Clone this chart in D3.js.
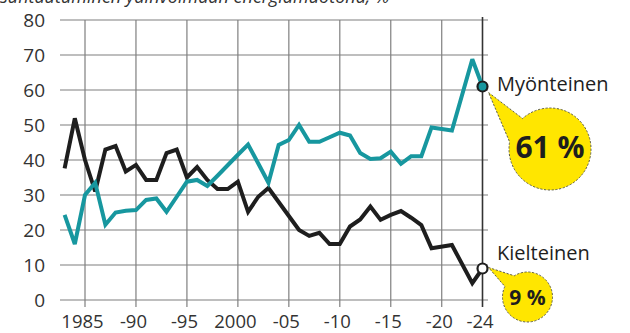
<!DOCTYPE html>
<html>
<head>
<meta charset="utf-8">
<script src="https://cdn.jsdelivr.net/npm/d3@7"></script>
<style>
  html, body { margin: 0; padding: 0; background: #fff; }
  svg { display: block; font-family: "Open Sans", "Noto Sans", sans-serif; }
</style>
</head>
<body>
<svg id="chart" width="630" height="333"></svg>
<script>
// Attitudes to nuclear power in Finland, share of respondents (%)
const positiveYears = [1983,1984,1985,1986,1987,1988,1989,1990,1991,1992,1993,1994,1995,1996,1997,1998,1999,2000,2001,2002,2003,2004,2005,2006,2007,2008,2009,2010,2011,2012,2013,2014,2015,2016,2017,2018,2019,2021,2023,2024];
const positiveValues = [24.3,16,30,33.5,21.5,25,25.5,25.7,28.6,29,25.2,29.5,33.8,34.3,32.6,35.5,38.5,41.5,44.4,39,33.5,44.3,45.7,50,45.2,45.2,46.5,47.8,47,42,40.3,40.5,42.4,38.9,41.1,41.1,49.3,48.4,68.8,61];

const negativeYears = [1983,1984,1985,1986,1987,1988,1989,1990,1991,1992,1993,1994,1995,1996,1997,1998,1999,2000,2001,2002,2003,2004,2005,2006,2007,2008,2009,2010,2011,2012,2013,2014,2015,2016,2017,2018,2019,2021,2023,2024];
const negativeValues = [37.6,51.9,40,31,43,44,36.7,38.6,34.3,34.3,42,43,35,38,34.3,31.7,31.7,33.8,25.2,29.5,32,28,24,20,18.3,19.2,16,16,21,23,26.7,22.9,24.3,25.4,23.5,21.4,14.8,15.7,4.8,9];

const yTicks = [0,10,20,30,40,50,60,70,80];
const xTicks = [1985,1990,1995,2000,2005,2010,2015,2020,2024];
const xTickLabels = ["1985","-90","-95","2000","-05","-10","-15","-20","-24"];

const seriesNames = ["Myönteinen","Kielteinen"];
const calloutLabels = ["61 %","9 %"];
const titleText = "suhtautuminen ydinvoimaan energiamuotona, %";

const TEAL = "#17979f";
const INK = "#1e1e1e";
const GRID = "#7f7f7f";

const svg = d3.select("#chart");

const x = d3.scaleLinear().domain([1985, 2024]).range([85, 482.5]);
const y = d3.scaleLinear().domain([0, 80]).range([300, 20]);

// Title (sits partly above the frame)
svg.append("text")
  .attr("x", 0).attr("y", 3)
  .attr("font-size", 18).attr("font-style", "italic")
  .attr("fill", "#333")
  .text(titleText);

// Horizontal gridlines with left labels
const yAxis = d3.axisLeft(y).tickValues(yTicks).tickSize(0).tickPadding(0);
const gy = svg.append("g").attr("transform", "translate(45,0)").call(yAxis);
gy.select(".domain").remove();
gy.selectAll("text")
  .attr("font-size", 19).attr("fill", "#333")
  .attr("font-family", "\"Open Sans\", sans-serif");

svg.append("g").selectAll("line").data(yTicks).join("line")
  .attr("x1", 60).attr("x2", 488)
  .attr("y1", d => y(d)).attr("y2", d => y(d))
  .attr("stroke", GRID).attr("stroke-width", 1.2);

// Vertical gridlines, running a little below the baseline as ticks
svg.append("g").selectAll("line").data(xTicks).join("line")
  .attr("x1", d => x(d)).attr("x2", d => x(d))
  .attr("y1", d => d === 2024 ? 17 : 20).attr("y2", 307)
  .attr("stroke", d => d === 2024 ? "#333" : GRID)
  .attr("stroke-width", d => d === 2024 ? 1.6 : 1.2);

const xAxis = d3.axisBottom(x).tickValues(xTicks)
  .tickFormat((d, i) => xTickLabels[i]).tickSize(0).tickPadding(0);
const gx = svg.append("g").attr("transform", "translate(-3,0)").call(xAxis);
gx.select(".domain").remove();
gx.selectAll("text")
  .attr("y", 328).attr("dy", null)
  .attr("font-size", 18.5).attr("fill", "#333")
  .attr("font-family", "\"Open Sans\", sans-serif");

// Series lines
const line = d3.line().x(d => x(d[0])).y(d => y(d[1]));
const posData = positiveYears.map((yr, i) => [yr, positiveValues[i]]);
const negData = negativeYears.map((yr, i) => [yr, negativeValues[i]]);

svg.append("path").datum(negData)
  .attr("d", line).attr("fill", "none")
  .attr("stroke", INK).attr("stroke-width", 4)
  .attr("stroke-linejoin", "miter").attr("stroke-miterlimit", 3);

svg.append("path").datum(posData)
  .attr("d", line).attr("fill", "none")
  .attr("stroke", TEAL).attr("stroke-width", 4)
  .attr("stroke-linejoin", "miter").attr("stroke-miterlimit", 3);

// Callout bubbles with the latest values
function bubble(cx, cy, r, tip, a1, a2) {
  const p = d3.path();
  const t1 = a1 * Math.PI / 180, t2 = a2 * Math.PI / 180;
  p.moveTo(tip[0], tip[1]);
  p.lineTo(cx + r * Math.cos(t1), cy + r * Math.sin(t1));
  p.arc(cx, cy, r, t1, t2 + 2 * Math.PI * (t2 < t1 ? 1 : 0) , false);
  p.closePath();
  return p.toString();
}

const lastPos = posData[posData.length - 1];
const lastNeg = negData[negData.length - 1];

const bubbles = [
  { cx: 550, cy: 149, r: 41, tip: [x(lastPos[0]) + 6, y(lastPos[1]) + 6], a1: 228, a2: 190, fs: 30, ty: 158, label: calloutLabels[0] },
  { cx: 527.5, cy: 297, r: 25, tip: [x(lastNeg[0]) + 6, y(lastNeg[1]) - 1], a1: 238, a2: 205, fs: 21, ty: 305, label: calloutLabels[1] }
];

bubbles.forEach(b => {
  svg.append("path")
    .attr("d", bubble(b.cx, b.cy, b.r, b.tip, b.a1, b.a2))
    .attr("fill", "#ffe600")
    .attr("stroke", "#5e5e48").attr("stroke-width", 1)
    .attr("stroke-dasharray", "2.2,1.6");
  svg.append("text")
    .attr("x", b.cx).attr("y", b.ty)
    .attr("text-anchor", "middle")
    .attr("font-size", b.fs).attr("font-weight", 700)
    .attr("fill", INK)
    .text(b.label);
});

// End markers and series names
svg.append("circle")
  .attr("cx", x(lastPos[0])).attr("cy", y(lastPos[1])).attr("r", 5)
  .attr("fill", TEAL).attr("stroke", INK).attr("stroke-width", 2.2);
svg.append("circle")
  .attr("cx", x(lastNeg[0])).attr("cy", y(lastNeg[1])).attr("r", 5)
  .attr("fill", "#fff").attr("stroke", INK).attr("stroke-width", 2.2);

svg.append("text")
  .attr("x", 497).attr("y", 91)
  .attr("font-size", 20).attr("fill", INK)
  .text(seriesNames[0]);
svg.append("text")
  .attr("x", 497).attr("y", 260)
  .attr("font-size", 20).attr("fill", INK)
  .text(seriesNames[1]);
</script>
</body>
</html>
